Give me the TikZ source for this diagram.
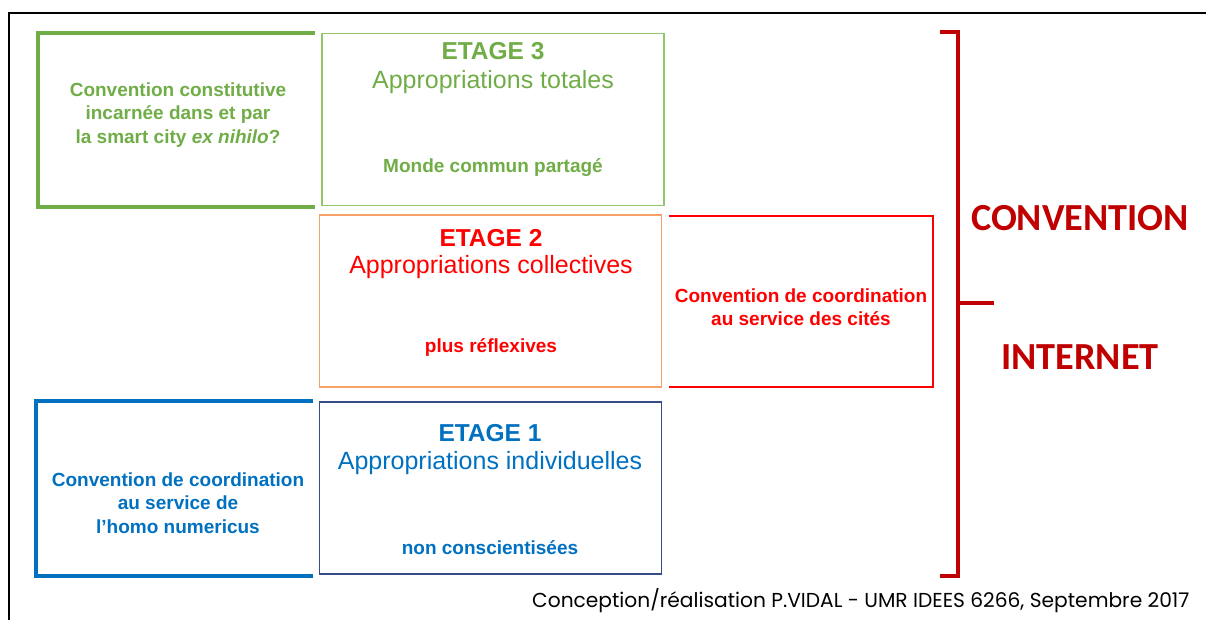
\documentclass[tikz,border=0pt]{standalone}
\usepackage{fontspec}
\setmainfont{Liberation Sans}
\newfontfamily\calibrifont{Carlito}
\newfontfamily\gothicfont{Poppins}
\usetikzlibrary{positioning}
\definecolor{etage3}{RGB}{112,173,71}
\definecolor{etage3box}{RGB}{146,198,108}
\definecolor{etage2}{RGB}{255,0,0}
\definecolor{etage2box}{RGB}{244,162,104}
\definecolor{etage1}{RGB}{0,112,192}
\definecolor{etage1box}{RGB}{55,75,135}
\definecolor{darkred}{RGB}{192,0,0}
\tikzset{
  etagebox/.style={minimum width=342, minimum height=172, line width=1.3},
  bracket/.style={line width=3.2, line cap=rect},
  convtxt/.style={align=center, font=\bfseries\fontsize{19}{23.5}\selectfont},
  titletxt/.style={font=\bfseries\fontsize{24.5}{28}\selectfont},
  subtxt/.style={font=\fontsize{25}{28}\selectfont},
  notetxt/.style={font=\bfseries\fontsize{19}{22}\selectfont},
  bigtxt/.style={font=\calibrifont\bfseries\fontsize{38.3}{39}\selectfont, text=darkred},
}

\begin{document}
\begin{tikzpicture}[x=1pt,y=-1pt]
\useasboundingbox (0,0) rectangle (1206,619);
% cadre
\draw[line width=1.6] (9,625) -- (9,13) -- (1210,13);

% etage 3
\node[etagebox, draw=etage3box] (box3) at (493,119.5) {};
\node[titletxt, text=etage3] (t3) at (493,51) {ETAGE 3};
\node[subtxt, text=etage3] (s3) at (493,82) {Appropriations totales};
\node[notetxt, text=etage3] (n3) at (493,168) {Monde commun partagé};
\draw[bracket, draw=etage3] (313,33) -- (38,33) -- (38,207) -- (313,207);
\node[convtxt, text=etage3] (c3) at (178,115) {Convention constitutive\\incarnée dans et par\\la smart city \textit{ex nihilo}?};

% etage 2
\node[etagebox, draw=etage2box] (box2) at (490.5,301) {};
\node[titletxt, text=etage2] (t2) at (491,238) {ETAGE 2};
\node[subtxt, text=etage2] (s2) at (491,267) {Appropriations collectives};
\node[notetxt, text=etage2] (n2) at (491,347) {plus réflexives};
\draw[bracket, draw=etage2, line width=2.6] (670,216) -- (933,216) -- (933,387) -- (670,387);
\node[convtxt, text=etage2] (c2) at (801,307) {Convention de coordination\\au service des cités};

% etage 1
\node[etagebox, draw=etage1box, line width=1.5] (box1) at (490.5,488) {};
\node[titletxt, text=etage1] (t1) at (490,433) {ETAGE 1};
\node[subtxt, text=etage1] (s1) at (490,463) {Appropriations individuelles};
\node[notetxt, text=etage1] (n1) at (490,548) {non conscientisées};
\draw[bracket, draw=etage1, line width=3.6] (311,401) -- (36,401) -- (36,576) -- (311,576);
\node[convtxt, text=etage1] (c1) at (178,503) {Convention de coordination\\au service de\\l’homo numericus};

% accolade
\coordinate (brtop) at (958,32);
\coordinate (brbot) at (958,576);
\coordinate (brmid) at (958,303);
\draw[bracket, draw=darkred, line width=4, line cap=butt] (940,32) -- (brtop) -- (brbot) -- (940,576);
\draw[draw=darkred, line width=4] (brmid) -- (994,303);
\node[bigtxt] (conv) at (1080,218) {CONVENTION};
\node[bigtxt] (inet) at (1080,357) {INTERNET};

\node[font=\gothicfont\fontsize{20.2}{20}\selectfont, anchor=east] (credit) at (1193,601) {Conception/réalisation P.VIDAL - UMR IDEES 6266, Septembre 2017};
\end{tikzpicture}
\end{document}
